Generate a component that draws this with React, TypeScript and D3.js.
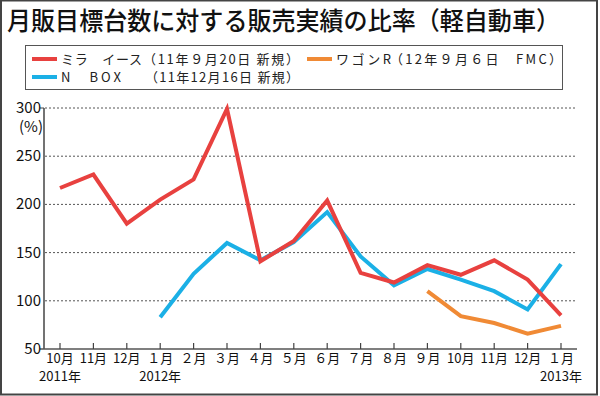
import React, { useEffect, useRef } from "react";
import * as d3 from "d3";

const months = ["10月", "11月", "12月", "１月", "２月", "３月", "４月", "５月", "６月", "７月", "８月", "９月", "10月", "11月", "12月", "１月"];
const years = ["2011年", "", "", "2012年", "", "", "", "", "", "", "", "", "", "", "", "2013年"];
const yTicks = [50, 100, 150, 200, 250, 300];

// ratio (%) per month, null = no data
const miraEs = [217, 231, 180, 205, 226, 299, 141, 162, 204, 129, 119, 137, 127, 142, 122, 85];
const nBox = [null, null, null, 83, 128, 160, 142, 161, 192, 146, 116, 133, 122, 110, 91, 138];
const wagonR = [null, null, null, null, null, null, null, null, null, null, null, 110, 84, 77, 66, 74];

const series = [
  { name: "N BOX", values: nBox, color: "#1bb0e6" },
  { name: "ミラ イース", values: miraEs, color: "#e8413f" },
  { name: "ワゴンR", values: wagonR, color: "#f08a35" },
];

const font = "'Noto Sans CJK JP', 'Noto Sans', sans-serif";

const App = () => {
  const ref = useRef<SVGSVGElement>(null);

  useEffect(() => {
    const svg = d3.select(ref.current);
    svg.selectAll("*").remove();

    const x = d3.scalePoint<number>().domain(d3.range(months.length)).range([60, 561]);
    const y = d3.scaleLinear().domain([50, 300]).range([349, 108]);

    svg.append("rect").attr("width", 600).attr("height", 396).attr("fill", "#fff");
    svg
      .append("rect")
      .attr("x", 1)
      .attr("y", 0.5)
      .attr("width", 596)
      .attr("height", 394)
      .attr("fill", "none")
      .attr("stroke", "#444")
      .attr("stroke-width", 2);

    // title
    svg
      .append("text")
      .attr("x", 7)
      .attr("y", 30)
      .attr("font-family", font)
      .attr("font-size", 25)
      .attr("font-weight", 500)
      .attr("fill", "#111")
      .attr("textLength", 553)
      .attr("lengthAdjust", "spacingAndGlyphs")
      .text("月販目標台数に対する販売実績の比率（軽自動車）");

    // legend
    const lg = svg.append("g").attr("font-family", font).attr("font-size", 13).attr("fill", "#222");
    lg.append("rect")
      .attr("x", 25.5)
      .attr("y", 45.5)
      .attr("width", 537)
      .attr("height", 44)
      .attr("fill", "#fff")
      .attr("stroke", "#555");
    const legendRows = [
      { color: "#e8413f", x: 32, y: 59, label: "ミラ　イース", lw: 81, note: "（11年９月20日 新規）", nx: 143, nw: 156 },
      { color: "#1bb0e6", x: 32, y: 77, label: "N　BOX", lw: 60, note: "（11年12月16日 新規）", nx: 145, nw: 154 },
      { color: "#f08a35", x: 307, y: 59, label: "ワゴンR", lw: 55, note: "（12年９月６日　FMC）", nx: 390, nw: 172 },
    ];
    legendRows.forEach((r) => {
      lg.append("line")
        .attr("x1", r.x)
        .attr("x2", r.x + 25)
        .attr("y1", r.y)
        .attr("y2", r.y)
        .attr("stroke", r.color)
        .attr("stroke-width", 4);
      lg.append("text")
        .attr("x", r.x + 29)
        .attr("y", r.y + 5)
        .attr("textLength", r.lw)
        .attr("lengthAdjust", "spacing")
        .text(r.label);
      lg.append("text")
        .attr("x", r.nx)
        .attr("y", r.y + 5)
        .attr("textLength", r.nw)
        .attr("lengthAdjust", "spacing")
        .text(r.note);
    });

    // grid
    svg
      .append("g")
      .selectAll("line")
      .data(yTicks.filter((t) => t > 50))
      .join("line")
      .attr("x1", 45)
      .attr("x2", 577)
      .attr("y1", (d) => y(d))
      .attr("y2", (d) => y(d))
      .attr("stroke", "#555")
      .attr("stroke-width", 1)
      .attr("stroke-dasharray", "2,2");

    // axes
    svg.append("line").attr("x1", 44).attr("x2", 44).attr("y1", y(300)).attr("y2", y(50)).attr("stroke", "#444").attr("stroke-width", 1.5);
    svg.append("line").attr("x1", 40).attr("x2", 577).attr("y1", y(50)).attr("y2", y(50)).attr("stroke", "#555").attr("stroke-width", 1.5);
    svg.append("line").attr("x1", 40).attr("x2", 44).attr("y1", y(300)).attr("y2", y(300)).attr("stroke", "#444").attr("stroke-width", 1);

    svg
      .append("g")
      .selectAll("line")
      .data(d3.range(months.length))
      .join("line")
      .attr("x1", (i) => x(i)!)
      .attr("x2", (i) => x(i)!)
      .attr("y1", y(50))
      .attr("y2", y(50) - 6)
      .attr("stroke", "#444")
      .attr("stroke-width", 1.2);

    const yl = svg.append("g").attr("font-family", font).attr("font-size", 15).attr("fill", "#111").attr("text-anchor", "end");
    yl.selectAll("text")
      .data(yTicks)
      .join("text")
      .attr("x", 41)
      .attr("y", (d) => y(d) + 5)
      .text((d) => d);
    yl.append("text").attr("x", 43).attr("y", 132).text("(%)");

    const xl = svg.append("g").attr("font-family", font).attr("font-size", 13).attr("fill", "#111").attr("text-anchor", "middle");
    xl.selectAll("text.m")
      .data(months)
      .join("text")
      .attr("class", "m")
      .attr("x", (_, i) => x(i)!)
      .attr("y", 363)
      .text((d) => d);
    xl.selectAll("text.yr")
      .data(years)
      .join("text")
      .attr("class", "yr")
      .attr("x", (_, i) => x(i)!)
      .attr("y", 381)
      .text((d) => d);

    // lines
    const line = d3
      .line<number | null>()
      .defined((d) => d != null)
      .x((_, i) => x(i)!)
      .y((d) => y(d as number));

    svg
      .append("g")
      .selectAll("path")
      .data(series)
      .join("path")
      .attr("d", (s) => line(s.values))
      .attr("fill", "none")
      .attr("stroke", (s) => s.color)
      .attr("stroke-width", 4)
      .attr("stroke-linejoin", "miter");
  }, []);

  return <svg ref={ref} width={600} height={396} style={{ position: "absolute", left: 0, top: 0 }} />;
};

export default App;
